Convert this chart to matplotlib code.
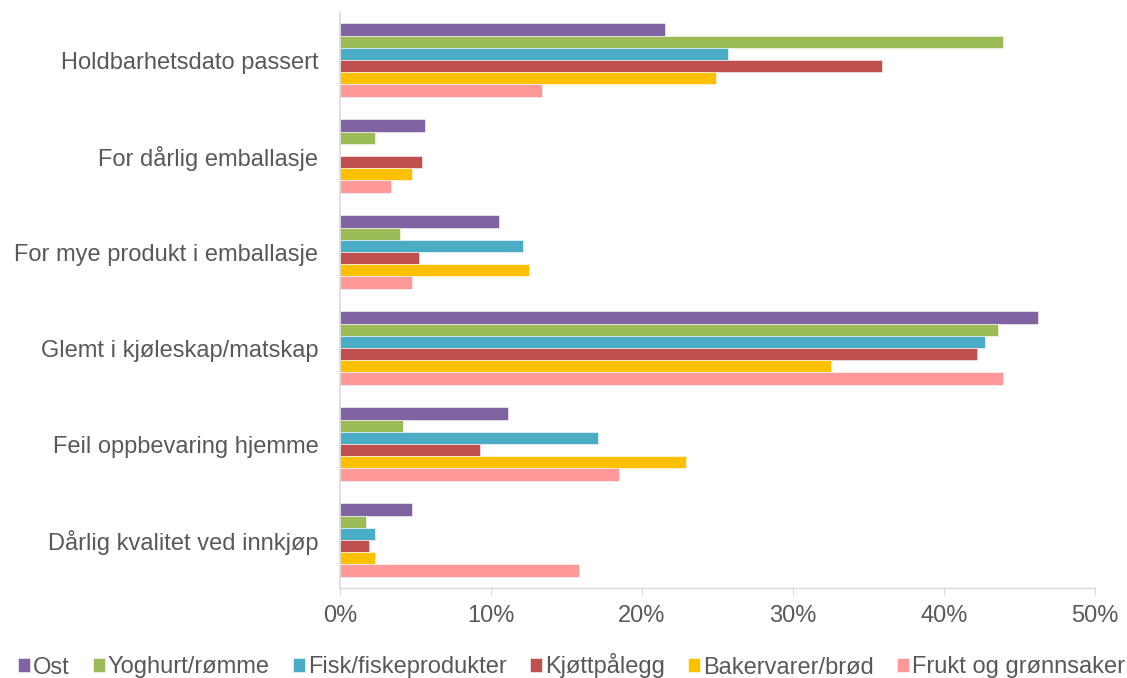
import matplotlib
matplotlib.use("Agg")
import matplotlib.pyplot as plt
import numpy as np

plt.rcParams['font.family'] = ['Liberation Sans', 'DejaVu Sans']

categories = ["Holdbarhetsdato passert", "For dårlig emballasje", "For mye produkt i emballasje",
              "Glemt i kjøleskap/matskap", "Feil oppbevaring hjemme", "Dårlig kvalitet ved innkjøp"]
series_names = ["Ost", "Yoghurt/rømme", "Fisk/fiskeprodukter", "Kjøttpålegg", "Bakervarer/brød", "Frukt og grønnsaker"]
ost = [21.5, 5.6, 10.5, 46.2, 11.1, 4.8]
yoghurt = [43.9, 2.3, 4.0, 43.6, 4.2, 1.7]
fisk = [25.7, 0.0, 12.1, 42.7, 17.1, 2.3]
kjott = [35.9, 5.4, 5.2, 42.2, 9.3, 1.9]
baker = [24.9, 4.8, 12.5, 32.5, 22.9, 2.3]
frukt = [13.4, 3.4, 4.8, 43.9, 18.5, 15.8]
colors = ["#8064A2", "#9BBB59", "#4BACC6", "#C0504D", "#FFC000", "#FF9999"]
xticks = [0, 10, 20, 30, 40, 50]

data = [ost, yoghurt, fisk, kjott, baker, frukt]

fig = plt.figure(figsize=(11.27, 6.78), dpi=100)
ax = fig.add_axes([340/1127, 1-588/678, (1095-340)/1127, (588-12)/678])

n = len(series_names)
h = 0.127
y = np.arange(len(categories))
for i, (vals, c, name) in enumerate(zip(data, colors, series_names)):
    ax.barh(y + (i - (n-1)/2) * h, vals, height=h, color=c, label=name,
            edgecolor='white', linewidth=0.4)

ax.set_ylim(len(categories) - 0.5, -0.5)
ax.set_xlim(0, 50)
ax.set_xticks(xticks)
ax.set_xticklabels([f"{t}%" for t in xticks])
ax.set_yticks(y)
ax.set_yticklabels(categories)

for s in ['top', 'right']:
    ax.spines[s].set_visible(False)
ax.spines['left'].set_color('#D9D9D9')
ax.spines['left'].set_linewidth(1.2)
ax.spines['bottom'].set_color('#D9D9D9')
ax.spines['bottom'].set_linewidth(1.0)
ax.tick_params(axis='y', length=0, pad=15.5, labelsize=17, labelcolor='#595959')
ax.tick_params(axis='x', length=5, color='#D9D9D9', pad=7, labelsize=17, labelcolor='#595959')

leg = fig.legend(loc='center', bbox_to_anchor=(0.507, 1-666/678), ncol=6, frameon=False,
                 fontsize=17, handlelength=0.5, handleheight=0.5, handletextpad=0.12,
                 columnspacing=1.0, labelcolor='#595959')

fig.savefig("out.png", dpi=100)
